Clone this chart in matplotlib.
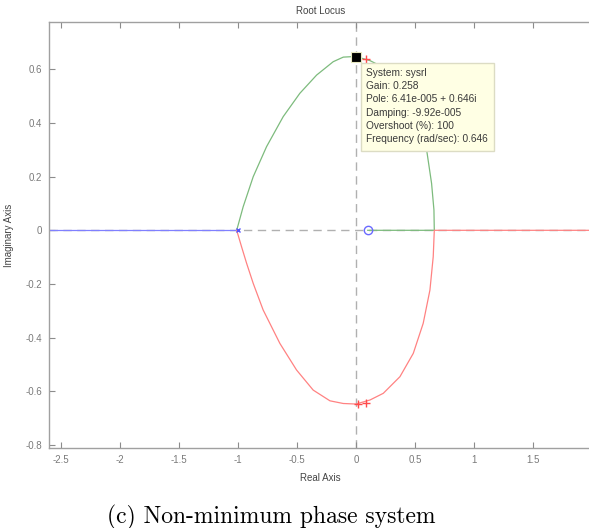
import numpy as np
import matplotlib
matplotlib.use('Agg')
import matplotlib.pyplot as plt
from matplotlib.patches import Rectangle

# root locus branches
upper_re = [-1.01, -0.955, -0.87, -0.757, -0.616, -0.475, -0.333, -0.192, -0.107, -0.023,
            0.0, 0.119, 0.232, 0.373, 0.486, 0.57, 0.599, 0.641, 0.661, 0.664, 0.1]
upper_im = [0.0, 0.088, 0.2, 0.312, 0.424, 0.511, 0.579, 0.629, 0.646, 0.648,
            0.648, 0.633, 0.608, 0.546, 0.459, 0.347, 0.3, 0.175, 0.076, 0.0, 0.0]
lower_re = [-1.01, -0.969, -0.926, -0.87, -0.786, -0.644, -0.503, -0.362, -0.22, -0.107,
            0.0, 0.119, 0.232, 0.373, 0.486, 0.57, 0.627, 0.655, 0.664, 2.5]
lower_im = [0.0, -0.061, -0.123, -0.198, -0.297, -0.422, -0.521, -0.596, -0.636, -0.646,
            -0.648, -0.633, -0.608, -0.546, -0.459, -0.347, -0.223, -0.098, 0.0, 0.0]
left_re = [-3.0, -1.01]
left_im = [0.0, 0.0]

pole_re, pole_im = [-1.0], [0.0]
zero_re, zero_im = [0.1], [0.0]
cursor_re, cursor_im = [0.0], [0.646]
cross_re = [0.082, 0.02, 0.085]
cross_im = [0.638, -0.648, -0.643]

xticks = [-2.5, -2, -1.5, -1, -0.5, 0, 0.5, 1, 1.5]
xlabels = ['-2.5', '-2', '-1.5', '-1', '-0.5', '0', '0.5', '1', '1.5']
yticks = [-0.8, -0.6, -0.4, -0.2, 0, 0.2, 0.4, 0.6]
ylabels = ['-0.8', '-0.6', '-0.4', '-0.2', '0', '0.2', '0.4', '0.6']

tip_lines = ['System: sysrl', 'Gain: 0.258', 'Pole: 6.41e-005 + 0.646i',
             'Damping: -9.92e-005', 'Overshoot (%): 100',
             'Frequency (rad/sec): 0.646']

plt.rcParams['font.family'] = ['Liberation Sans', 'DejaVu Sans']
plt.rcParams['axes.unicode_minus'] = False

grey = '#8c8c8c'
fig = plt.figure(figsize=(5.89, 5.28), dpi=100)
ax = fig.add_axes([49 / 589, 80 / 528, 543 / 589, 426 / 528])
ax.set_xlim(-2.6, 2.0)
ax.set_ylim(-0.812, 0.777)

# axis lines through origin
ax.axhline(0, color='#b0b0b0', lw=1.0, ls=(0, (6, 4)), zorder=1)
ax.axvline(0, color='#b0b0b0', lw=1.0, ls=(0, (6, 4)), zorder=1)

ax.plot(left_re, left_im, color='#8080ff', lw=0.9, zorder=2)
ax.plot(upper_re, upper_im, color='#7dbb7d', lw=0.9, zorder=2)
ax.plot(lower_re, lower_im, color='#ff8282', lw=0.9, zorder=2)

ax.plot(pole_re, pole_im, 'x', color='#5555ff', ms=3.5, mew=1.0, zorder=3)
ax.plot(zero_re, zero_im, 'o', mfc='none', mec='#6a6aff', ms=6, mew=1.0, zorder=3)
ax.plot(cross_re, cross_im, '+', color='#ff4b4b', ms=6, mew=1.0, zorder=3, ls='none')
ax.plot(cursor_re, cursor_im, 's', color='black', mec='#e8e8c0', ms=7, mew=0.8, zorder=5)

# data tip box
ax.add_patch(Rectangle((0.042, 0.297), 1.127, 0.328, transform=ax.transData,
                       fc='#ffffe4', ec='#dcdcc4', lw=1.0, zorder=4))
for i, line in enumerate(tip_lines):
    ax.annotate(line, xy=(0.083, 0.588), xytext=(0, -9.6 * i), textcoords='offset points',
                fontsize=7.3, color='#3a3a3a', va='center', ha='left', zorder=6)

ax.set_xticks(xticks)
ax.set_xticklabels(xlabels)
ax.set_yticks(yticks)
ax.set_yticklabels(ylabels)
ax.tick_params(direction='in', length=4, width=0.8, color=grey, labelcolor='#7a7a7a',
               labelsize=7, top=True, right=False, pad=5)
for sp in ax.spines.values():
    sp.set_color('#a0a0a0')
    sp.set_linewidth(1.0)

ax.set_title('Root Locus', fontsize=7, color='#444444', pad=6)
ax.set_xlabel('Real Axis', fontsize=7, color='#444444', labelpad=6)
ax.set_ylabel('Imaginary Axis', fontsize=7, color='#444444', labelpad=8)

fig.text(271 / 589, 5 / 528, '(c) Non-minimum phase system', family='cmr10',
         fontsize=17, ha='center', va='baseline', color='black')

fig.savefig('out.png', dpi=100)
